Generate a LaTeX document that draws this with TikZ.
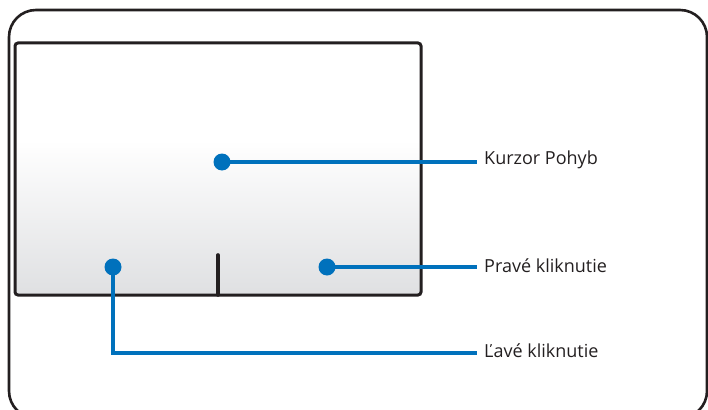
\documentclass[tikz,border=0pt]{standalone}
\usepackage{fontspec}
\setmainfont{Open Sans}
\usetikzlibrary{positioning}
\definecolor{padblue}{HTML}{0071BC}
\definecolor{padink}{HTML}{231F20}
\definecolor{padgray}{HTML}{DFE0E2}
\tikzset{
  frame/.style={draw=padink, line width=2.6pt},
  dot/.style={circle, fill=padblue, minimum size=17pt, inner sep=0pt},
  lead/.style={draw=padblue, line width=3.2pt},
  tag/.style={anchor=west, inner sep=7pt, font=\fontsize{18}{21}\selectfont, text=padink}}

\begin{document}
\begin{tikzpicture}[x=1pt, y=-1pt]
  \useasboundingbox (0,0) rectangle (708,409);
  \clip (0,0) rectangle (708,409);
  % laptop body and touchpad
  \draw[frame, rounded corners=27pt] (9,10) rectangle (707,418);
  \fill[white] (15,43) rectangle (421,295);
  \shade[top color=white, bottom color=padgray] (15,140) rectangle (421,295);
  \draw[frame, line width=3pt, rounded corners=3pt] (15,43) rectangle (421,295);
  \draw[padink, line width=3.6pt, line cap=round] (218,255) -- (218,295);
  % touch points
  \node[dot] (move) at (222,162) {};
  \node[dot] (left) at (113,267) {};
  \node[dot] (right) at (327,267) {};
  \node[tag] (moveTag) at (477,160) {Kurzor Pohyb};
  \node[tag] (rightTag) at (477,266) {Pravé kliknutie};
  \node[tag] (leftTag) at (477,351) {Ľavé kliknutie};
  \coordinate (bend) at (left |- leftTag);
  \draw[lead] (move.center) -- (moveTag.west |- move);
  \draw[lead] (right.center) -- (rightTag.west |- right);
  \draw[lead] (left.center) -- ([yshift=-2pt]bend) -- ([yshift=-2pt]leftTag.west);
\end{tikzpicture}
\end{document}
